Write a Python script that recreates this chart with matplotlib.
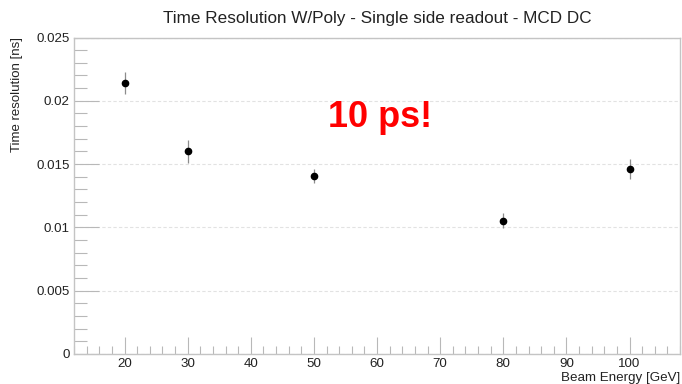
import matplotlib
matplotlib.use("Agg")
import matplotlib.pyplot as plt
from matplotlib.ticker import MultipleLocator

energy = [20, 30, 50, 80, 100]
time_res = [0.02141, 0.01601, 0.01404, 0.01053, 0.01461]
time_err = [0.00088, 0.00090, 0.00055, 0.00059, 0.00080]
title = "Time Resolution W/Poly - Single side readout - MCD DC"
xlabel = "Beam Energy [GeV]"
ylabel = "Time resolution [ns]"
annot = "10 ps!"

plt.rcParams['font.family'] = ['Liberation Sans', 'DejaVu Sans']

fig = plt.figure(figsize=(6.82, 3.84), dpi=100)
W, H = 682, 384
left, right, top, bottom = 74, 680, 37.5, 354
ax = fig.add_axes([left / W, 1 - bottom / H, (right - left) / W, (bottom - top) / H])

ax.errorbar(energy, time_res, yerr=time_err, fmt='o', color='black',
            ecolor='#8c8c8c', elinewidth=0.9, markersize=4.5, capsize=0, zorder=3)

ax.set_xlim(12, 108)
ax.set_ylim(0, 0.025)
ax.xaxis.set_major_locator(MultipleLocator(10))
ax.xaxis.set_minor_locator(MultipleLocator(2))
ax.yaxis.set_major_locator(MultipleLocator(0.005))
ax.yaxis.set_minor_locator(MultipleLocator(0.001))
ax.set_yticks([0, 0.005, 0.01, 0.015, 0.02, 0.025])
ax.set_yticklabels(['0', '0.005', '0.01', '0.015', '0.02', '0.025'])
ax.set_xticks([20, 30, 40, 50, 60, 70, 80, 90, 100])

ax.grid(axis='y', which='major', color='#e2e2e2', linestyle=(0, (3, 2)), linewidth=0.8)
for s in ax.spines.values():
    s.set_color('#c4c4c4')
    s.set_linewidth(1.0)

ax.tick_params(axis='x', which='major', direction='in', length=12, width=0.8, color='#b8b8b8',
               labelsize=9.6, labelcolor='#222222', pad=3)
ax.tick_params(axis='x', which='minor', direction='in', length=6, width=0.8, color='#b8b8b8')
ax.tick_params(axis='y', which='major', direction='in', length=18, width=0.8, color='#b8b8b8',
               labelsize=9.6, labelcolor='#222222', pad=3)
ax.tick_params(axis='y', which='minor', direction='in', length=9, width=0.8, color='#b8b8b8')

fig.text(377 / W, 1 - 18 / H, title, ha='center', va='center', fontsize=12.3, color='#222222')
fig.text(680 / W, 1 - 383.5 / H, xlabel, ha='right', va='bottom', fontsize=9.6, color='#222222')
fig.text(17 / W, 1 - 37.5 / H, ylabel, ha='center', va='top', rotation=90, fontsize=9.5, color='#222222')

ax.text(60.5, 0.0187, annot, ha='center', va='center', fontsize=26, fontweight='bold', color='#ff0000')

fig.savefig('out.png', dpi=100)
